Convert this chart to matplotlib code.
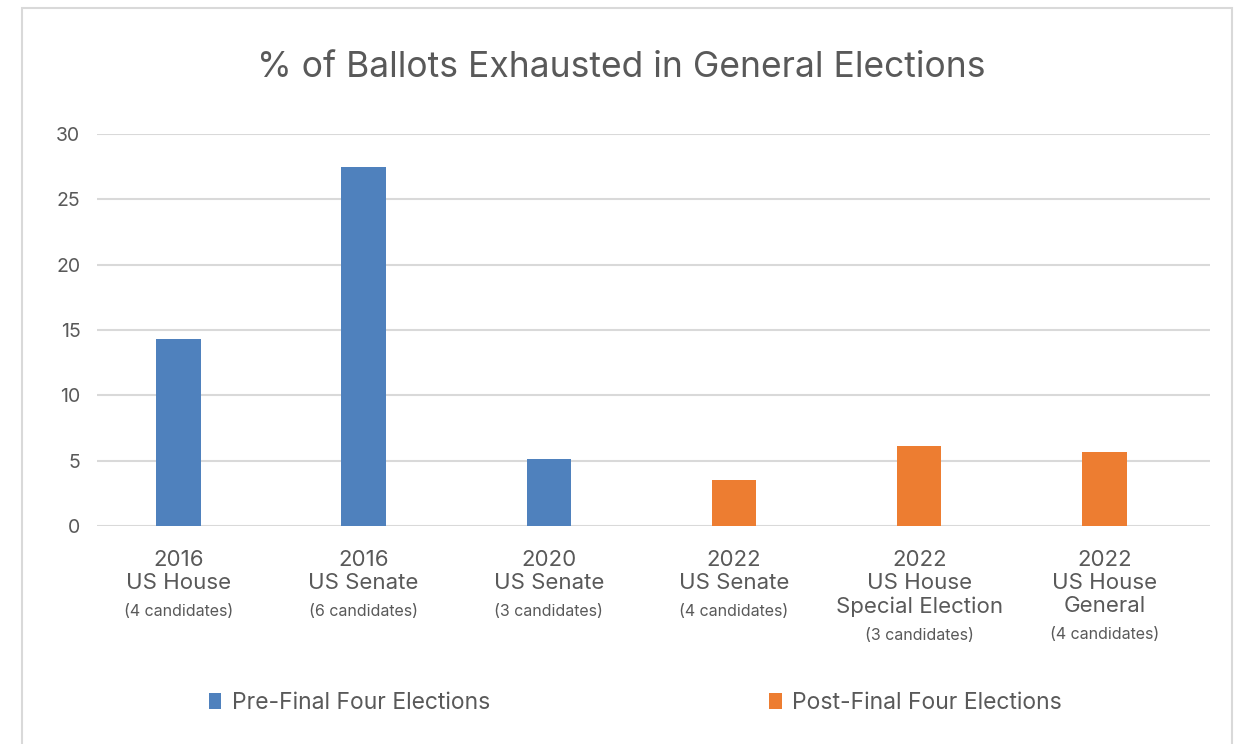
import matplotlib.pyplot as plt
from matplotlib.patches import Rectangle

plt.rcParams['font.family'] = ['Inter', 'DejaVu Sans']

# Datos
anios = ['2016', '2016', '2020', '2022', '2022', '2022']
cargos = ['US House', 'US Senate', 'US Senate', 'US Senate',
          'US House\nSpecial Election', 'US House\nGeneral']
candidatos = ['(4 candidates)', '(6 candidates)', '(3 candidates)',
              '(4 candidates)', '(3 candidates)', '(4 candidates)']
agotadas = [14.3, 27.5, 5.1, 3.5, 6.1, 5.7]
grupo = ['pre', 'pre', 'pre', 'post', 'post', 'post']

azul = '#4F81BD'
naranja = '#ED7D31'
gris = '#595959'

fig = plt.figure(figsize=(12.36, 7.44), dpi=100)
ax = fig.add_axes([97 / 1236, 218 / 744, (1210 - 97) / 1236, (526 - 134) / 744])

x = list(range(len(agotadas)))
x_pre = [i for i in x if grupo[i] == 'pre']
x_post = [i for i in x if grupo[i] == 'post']
ax.bar(x_pre, [agotadas[i] for i in x_pre], width=0.24, color=azul,
       label='Pre-Final Four Elections', zorder=3)
ax.bar(x_post, [agotadas[i] for i in x_post], width=0.24, color=naranja,
       label='Post-Final Four Elections', zorder=3)

ax.set_xlim(-0.44, 5.57)
ax.set_ylim(0, 30)
ax.set_yticks([0, 5, 10, 15, 20, 25, 30])
ax.yaxis.grid(True, color='#D9D9D9', linewidth=1.5, zorder=0)
ax.tick_params(axis='y', length=0, labelsize=14, labelcolor=gris, pad=12)
ax.set_xticks([])
for s in ax.spines.values():
    s.set_visible(False)

# Etiquetas de categoria en varias lineas
for i in x:
    t = ax.text(i, -0.06, anios[i] + '\n' + cargos[i], transform=ax.get_xaxis_transform(),
                ha='center', va='top', fontsize=16, color=gris, linespacing=1.2)
    ax.annotate(candidatos[i], xy=(0.5, 0), xycoords=t, xytext=(0, -8),
                textcoords='offset points', ha='center', va='top',
                fontsize=11.5, color=gris)

fig.suptitle('% of Ballots Exhausted in General Elections', x=0.503, y=0.932,
             fontsize=25.5, color=gris)

fig.legend(loc='center', bbox_to_anchor=(0.514, 1 - 703 / 744), ncol=2, frameon=False,
           fontsize=16.5, labelcolor=gris, handlelength=0.55, handleheight=0.75,
           handletextpad=0.45, columnspacing=12.2)

# Marco exterior
fig.patches.append(Rectangle((22 / 1236, -0.01), (1232 - 22) / 1236, 1 - 8 / 744 + 0.01,
                             transform=fig.transFigure, fill=False,
                             edgecolor='#D9D9D9', linewidth=1.5))

fig.savefig('out.png', dpi=100)
